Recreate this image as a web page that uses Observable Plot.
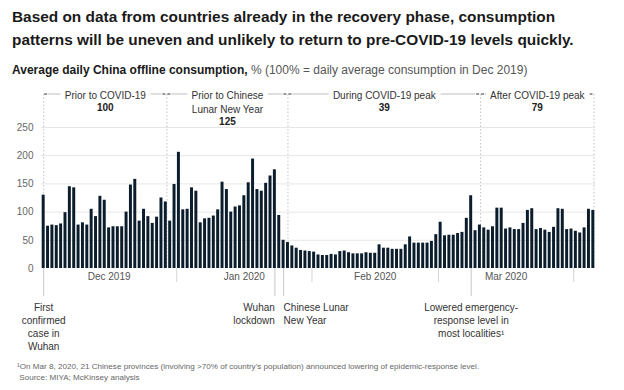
<!DOCTYPE html>
<html><head><meta charset="utf-8">
<script src="https://cdn.jsdelivr.net/npm/d3@7"></script>
<script src="https://cdn.jsdelivr.net/npm/@observablehq/plot@0.6"></script>
<style>
body{margin:0;background:#fff;font-family:"Liberation Sans",Arial,sans-serif;}
#wrap{position:relative;width:624px;height:390px;overflow:hidden;}
#title{position:absolute;left:12px;top:5px;font-size:15.4px;line-height:23px;font-weight:700;color:#1a1a1a;white-space:nowrap;}
#sub{position:absolute;left:12px;top:62px;font-size:12px;line-height:16px;color:#555;white-space:nowrap;}
#sub b{color:#1a1a1a;}
#chart{position:absolute;left:0;top:85px;}
#foot{position:absolute;left:17px;top:361px;font-size:8.1px;line-height:11px;color:#666;white-space:nowrap;}
</style></head><body>
<div id="wrap">
<div id="title">Based on data from countries already in the recovery phase, consumption<br>patterns will be uneven and unlikely to return to pre-COVID-19 levels quickly.</div>
<div id="sub"><b>Average daily China offline consumption,</b> % (100% = daily average consumption in Dec 2019)</div>
<div id="chart"></div>
<div id="foot">¹On Mar 8, 2020, 21 Chinese provinces (involving &gt;70% of country’s population) announced lowering of epidemic-response level.<br>&nbsp;Source: MIYA; McKinsey analysis</div>
</div>
<script>
// ---- data ----
const startDate = "2019-12-01T00:00Z";
const endDate = "2020-04-06T00:00Z";
const values = [
  130, 75, 77, 76, 79, 99, 145, 143, 77, 81,
  77, 105, 92, 128, 121, 72, 74, 74, 74, 100,
  148, 158, 84, 105, 92, 80, 91, 125, 118, 84,
  149, 206, 104, 105, 143, 137, 81, 88, 89, 93,
  104, 153, 140, 100, 109, 111, 129, 152, 194, 140,
  137, 151, 164, 175, 94, 50, 46, 40, 36, 32,
  31, 30, 29, 24, 23, 23, 25, 24, 30, 31,
  28, 26, 26, 26, 28, 27, 27, 42, 36, 36,
  34, 34, 34, 42, 56, 45, 45, 45, 45, 48,
  60, 82, 58, 59, 59, 62, 64, 89, 129, 67,
  77, 72, 68, 74, 107, 107, 70, 72, 69, 69,
  80, 103, 106, 69, 71, 68, 64, 73, 106, 105,
  69, 70, 66, 63, 72, 105, 103
];
const yTicks = [0, 50, 100, 150, 200, 250];
const monthStarts = ["2020-01-01T00:00Z", "2020-02-01T00:00Z", "2020-03-01T00:00Z", "2020-04-01T00:00Z"];
const monthLabels = ["Dec 2019", "Jan 2020", "Feb 2020", "Mar 2020"];
const monthMids = ["2019-12-16T12:00Z", "2020-01-16T12:00Z", "2020-02-15T12:00Z", "2020-03-16T12:00Z"];
const periodNames = ["Prior to COVID-19", "Prior to Chinese\nLunar New Year", "During COVID-19 peak", "After COVID-19 peak"];
const periodValues = [100, 125, 39, 79];
const periodBounds = ["2019-12-01T12:00Z", "2019-12-29T18:00Z", "2020-01-26T12:00Z", "2020-03-10T16:00Z", "2020-04-05T16:00Z"];
const eventDates = ["2019-12-01T12:00Z", "2020-01-23T12:00Z", "2020-01-25T12:00Z", "2020-03-08T12:00Z"];
const eventLabels = ["First\nconfirmed\ncase in\nWuhan", "Wuhan\nlockdown", "Chinese Lunar\nNew Year", "Lowered emergency-\nresponse level in\nmost localities¹"];
const eventAnchors = ["middle", "end", "start", "middle"];

// ---- build tables ----
const start = new Date(startDate);
const dates = d3.utcDays(start, d3.utcDay.offset(start, values.length));
const data = values.map((v, i) => ({date: dates[i], value: v}));
const periods = periodNames.map((name, i) => {
  const s = new Date(periodBounds[i]), e = new Date(periodBounds[i + 1]);
  return {name, value: String(periodValues[i]), start: s, end: e, mid: new Date((+s + +e) / 2), lines: name.split("\n").length};
});
const bounds = periodBounds.map(d => new Date(d));
const events = eventDates.map((d, i) => ({date: new Date(d), label: eventLabels[i], anchor: eventAnchors[i]}));
const months = monthLabels.map((l, i) => ({date: new Date(monthMids[i]), label: l}));

const FONT = '"Liberation Sans", Arial, sans-serif';
const W = 624, H = 271, mTop = 42, mBottom = 88;
const frameH = H - mTop - mBottom;
const ink = "#0b1d2c";
const headDy = -38, headLine = 14;

const eventMarks = ["start", "middle", "end"].map(a =>
  Plot.text(events.filter(e => e.anchor === a), {
    x: "date", text: "label", frameAnchor: "bottom", dy: 33, lineAnchor: "top",
    textAnchor: a, lineHeight: 1.3, fontSize: 10, fill: "#333"
  })
);
const valueMarks = [1, 2].map(n =>
  Plot.text(periods.filter(p => p.lines === n), {
    x: "mid", text: "value", frameAnchor: "top", dy: headDy + n * headLine, lineAnchor: "top",
    fontSize: 10, fontWeight: "bold", fill: "#222"
  })
);

const chart = Plot.plot({
  width: W, height: H,
  marginLeft: 41, marginRight: 29, marginTop: mTop, marginBottom: mBottom,
  style: {fontFamily: FONT, fontSize: "10px", background: "transparent", overflow: "visible"},
  x: {type: "utc", domain: [start, new Date(endDate)], axis: null},
  y: {domain: [0, 250], axis: null},
  marks: [
    Plot.gridY(yTicks.filter(d => d > 0), {stroke: "#e6e6e6", strokeOpacity: 1}),
    Plot.axisY(yTicks, {tickSize: 0, tickPadding: 8, fontSize: 10, color: "#666", label: null}),
    // period separators (dotted)
    Plot.ruleX(bounds, {x: d => d, insetTop: -33, stroke: "#c4c4c4", strokeDasharray: "1.5,2"}),
    // bars
    Plot.rectY(data, {x: "date", y: "value", interval: d3.utcDay, insetLeft: 0.7, insetRight: 0.7, fill: ink}),
    // month ticks & labels
    Plot.ruleX(monthStarts.map(d => new Date(d)), {x: d => d, insetTop: frameH, insetBottom: -14, stroke: "#d6d6d6"}),
    Plot.text(months, {x: "date", text: "label", frameAnchor: "bottom", dy: 11, fontSize: 10, fill: "#555"}),
    // event lines & labels
    Plot.ruleX(events, {x: "date", insetTop: frameH, insetBottom: -28, stroke: "#c8c8c8"}),
    ...eventMarks,
    // period header lines
    Plot.ruleY(periods, {y: () => 250, x1: "start", x2: "end", dy: -33.5, insetLeft: 5, insetRight: 5, stroke: "#bdbdbd"}),
    Plot.ruleY(periods, {y: () => 250, x1: "start", x2: "start", dy: -33.5, insetLeft: 1, insetRight: -4, stroke: "#333"}),
    Plot.ruleY(periods, {y: () => 250, x1: "end", x2: "end", dy: -33.5, insetLeft: -4, insetRight: 1, stroke: "#333"}),
    Plot.text(periods, {
      x: "mid", text: "name", frameAnchor: "top", dy: headDy, lineAnchor: "top", lineHeight: 1.38,
      fontSize: 10, fill: "#333", stroke: "white", strokeWidth: 10, paintOrder: "stroke"
    }),
    ...valueMarks
  ]
});
document.getElementById("chart").appendChild(chart);
</script>
</body></html>
